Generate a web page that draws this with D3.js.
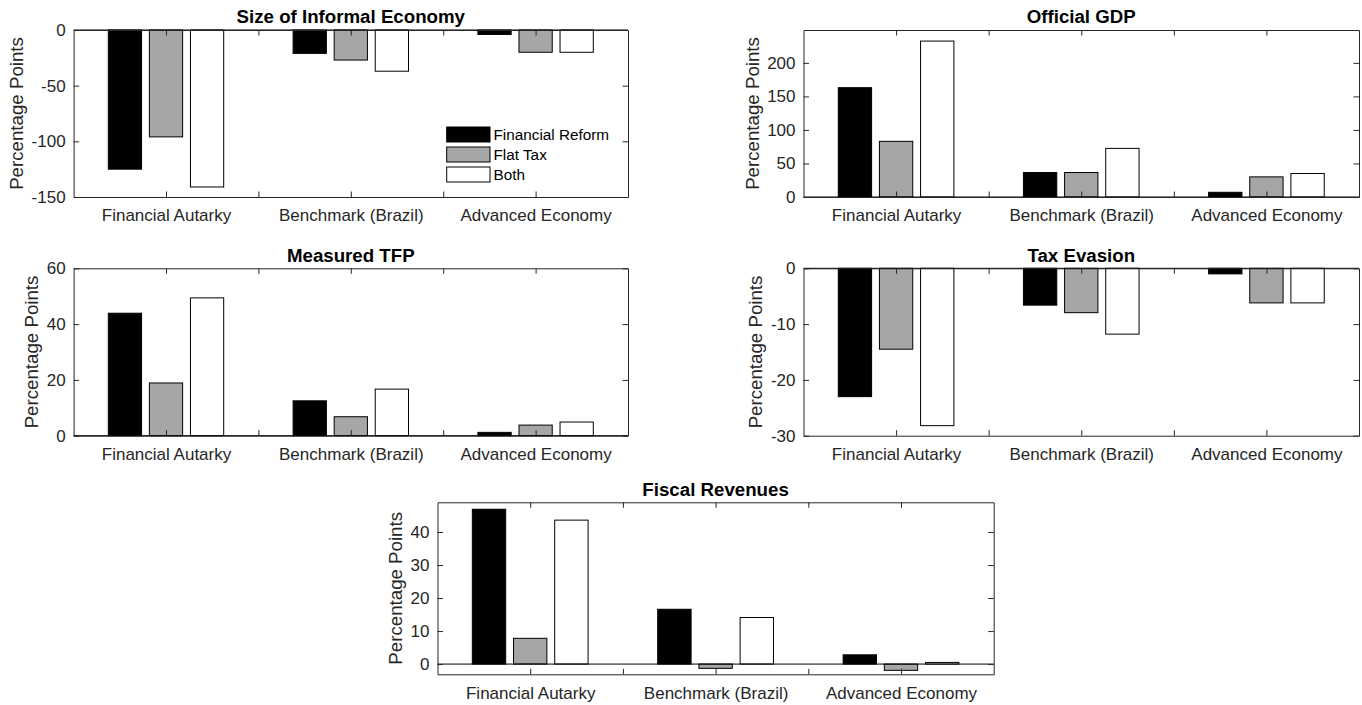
<!DOCTYPE html>
<html>
<head>
<meta charset="utf-8">
<script src="https://cdn.jsdelivr.net/npm/d3@7"></script>
<style>
html,body{margin:0;padding:0;background:#fff;}
svg{display:block;}
text{font-family:"Liberation Sans",Arial,Helvetica,sans-serif;}
</style>
</head>
<body>
<svg id="chart" width="1362" height="705"></svg>
<script>
// ---------- data ----------
const categories = ["Financial Autarky", "Benchmark (Brazil)", "Advanced Economy"];
const seriesNames = ["Financial Reform", "Flat Tax", "Both"];
const seriesFills = ["#000000", "#a6a6a6", "#ffffff"];

const informalFR = [-125, -21, -4];
const informalFT = [-96, -27, -20];
const informalBoth = [-141, -37, -20];
const informalTicks = [-150, -100, -50, 0];

const gdpFR = [163, 36.5, 7];
const gdpFT = [83, 36.5, 30];
const gdpBoth = [232.5, 72.5, 35];
const gdpTicks = [0, 50, 100, 150, 200];

const tfpFR = [43.9, 12.5, 1.2];
const tfpFT = [18.9, 6.8, 3.8];
const tfpBoth = [49.4, 16.7, 4.9];
const tfpTicks = [0, 20, 40, 60];

const evasionFR = [-23.0, -6.6, -1.0];
const evasionFT = [-14.5, -7.95, -6.2];
const evasionBoth = [-28.2, -11.8, -6.2];
const evasionTicks = [-30, -20, -10, 0];

const fiscalFR = [46.9, 16.6, 2.8];
const fiscalFT = [7.8, -1.3, -1.9];
const fiscalBoth = [43.6, 14.1, 0.5];
const fiscalTicks = [0, 10, 20, 30, 40];

const xTickValues = [1, 1.5, 2, 2.5, 3];

// ---------- layout ----------
const panels = [
  {title: "Size of Informal Economy", series: [informalFR, informalFT, informalBoth], ticks: informalTicks,
   domain: [-150, 0], box: {l: 73.6, r: 628, t: 30, b: 197}, legend: true},
  {title: "Official GDP", series: [gdpFR, gdpFT, gdpBoth], ticks: gdpTicks,
   domain: [0, 249], box: {l: 803.5, r: 1359, t: 30, b: 197}},
  {title: "Measured TFP", series: [tfpFR, tfpFT, tfpBoth], ticks: tfpTicks,
   domain: [0, 60], box: {l: 73.6, r: 628, t: 268.3, b: 435.7}},
  {title: "Tax Evasion", series: [evasionFR, evasionFT, evasionBoth], ticks: evasionTicks,
   domain: [-30, 0], box: {l: 803.5, r: 1359, t: 268.3, b: 435.7}},
  {title: "Fiscal Revenues", series: [fiscalFR, fiscalFT, fiscalBoth], ticks: fiscalTicks,
   domain: [-3.1, 49], box: {l: 437.5, r: 993.7, t: 502.3, b: 674.3}}
];

const svg = d3.select("#chart");
const axisColor = "#262626";
const tickLen = 5.5;
const offsets = [-0.2222, 0, 0.2222];
const barW = 0.18;

panels.forEach(p => {
  const B = p.box;
  const g = svg.append("g");
  const x = d3.scaleLinear().domain([0.5, 3.5]).range([B.l, B.r]);
  const y = d3.scaleLinear().domain(p.domain).range([B.b, B.t]);

  // bars
  p.series.forEach((vals, si) => {
    g.selectAll(null).data(vals).enter().append("rect")
      .attr("x", (d, i) => x(i + 1 + offsets[si] - barW / 2))
      .attr("width", x(0.5 + barW) - x(0.5))
      .attr("y", d => Math.min(y(d), y(0)))
      .attr("height", d => Math.abs(y(d) - y(0)))
      .attr("fill", seriesFills[si])
      .attr("stroke", "#000")
      .attr("stroke-width", 1);
  });

  // baseline at zero
  g.append("line")
    .attr("x1", B.l).attr("x2", B.r)
    .attr("y1", y(0)).attr("y2", y(0))
    .attr("stroke", "#000").attr("stroke-width", 1);

  // axes
  const fmt = d => (d < 0 ? "-" + Math.abs(d) : String(d));
  const left = g.append("g").attr("transform", `translate(${B.l},0)`)
    .call(d3.axisLeft(y).tickValues(p.ticks).tickSizeInner(-tickLen).tickSizeOuter(0).tickPadding(8).tickFormat(fmt));
  const right = g.append("g").attr("transform", `translate(${B.r},0)`)
    .call(d3.axisRight(y).tickValues(p.ticks).tickSizeInner(-tickLen).tickSizeOuter(0).tickFormat(""));
  const bottom = g.append("g").attr("transform", `translate(0,${B.b})`)
    .call(d3.axisBottom(x).tickValues(xTickValues).tickSizeInner(-tickLen).tickSizeOuter(0).tickPadding(12.4)
      .tickFormat(d => Number.isInteger(d) ? categories[d - 1] : ""));
  const top = g.append("g").attr("transform", `translate(0,${B.t})`)
    .call(d3.axisTop(x).tickValues(xTickValues).tickSizeInner(-tickLen).tickSizeOuter(0).tickFormat(""));

  [left, right, bottom, top].forEach(a => {
    a.selectAll("path.domain").attr("stroke", axisColor).attr("stroke-width", 1);
    a.selectAll(".tick line").attr("stroke", axisColor).attr("stroke-width", 1);
    a.selectAll(".tick text").attr("fill", axisColor).style("font-size", "17px")
      .style("font-family", "'Liberation Sans', Arial, Helvetica, sans-serif");
  });

  // y label
  let maxW = 0;
  left.selectAll(".tick text").each(function () { maxW = Math.max(maxW, this.getBBox().width); });
  const lx = B.l - 8 - maxW - 15;
  g.append("text")
    .attr("transform", `translate(${lx},${(B.t + B.b) / 2}) rotate(-90)`)
    .attr("text-anchor", "middle").attr("dy", "0.35em")
    .attr("fill", axisColor).style("font-size", "18.7px")
    .text("Percentage Points");

  // title
  g.append("text")
    .attr("x", (B.l + B.r) / 2).attr("y", B.t - 6.6)
    .attr("text-anchor", "middle")
    .style("font-size", "18.7px").style("font-weight", "bold").attr("fill", "#000")
    .text(p.title);

  // legend
  if (p.legend) {
    const lg = g.append("g");
    seriesNames.forEach((name, si) => {
      const yy = 127 + si * 20;
      lg.append("rect").attr("x", 446.7).attr("y", yy).attr("width", 43.3).attr("height", 15)
        .attr("fill", seriesFills[si]).attr("stroke", "#000").attr("stroke-width", 1);
      lg.append("text").attr("x", 493.5).attr("y", yy + 7.5).attr("dy", "0.35em")
        .style("font-size", "15.3px").attr("fill", "#000").text(name);
    });
  }
});
</script>
</body>
</html>
